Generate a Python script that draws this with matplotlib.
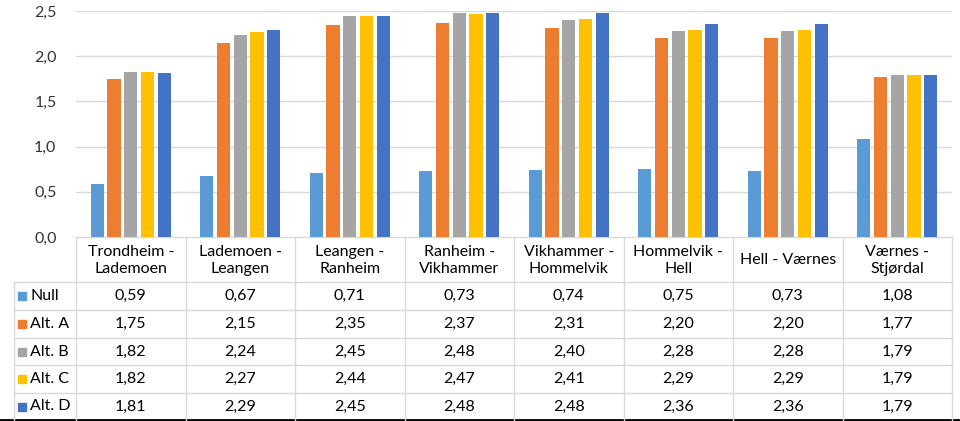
import numpy as np
import matplotlib.pyplot as plt
from matplotlib.ticker import FuncFormatter

# segments along the line, Null + four alternatives
categories = ['Trondheim -\nLademoen', 'Lademoen -\nLeangen', 'Leangen -\nRanheim',
              'Ranheim -\nVikhammer', 'Vikhammer -\nHommelvik', 'Hommelvik -\nHell',
              'Hell - Værnes', 'Værnes -\nStjørdal']
series_names = ['Null', 'Alt. A', 'Alt. B', 'Alt. C', 'Alt. D']
null_vals = [0.59, 0.67, 0.71, 0.73, 0.74, 0.75, 0.73, 1.08]
alt_a = [1.75, 2.15, 2.35, 2.37, 2.31, 2.20, 2.20, 1.77]
alt_b = [1.82, 2.24, 2.45, 2.48, 2.40, 2.28, 2.28, 1.79]
alt_c = [1.82, 2.27, 2.44, 2.47, 2.41, 2.29, 2.29, 1.79]
alt_d = [1.81, 2.29, 2.45, 2.48, 2.48, 2.36, 2.36, 1.79]
colors = ['#5B9BD5', '#ED7D31', '#A5A5A5', '#FFC000', '#4472C4']

plt.rcParams['font.family'] = ['Lato', 'DejaVu Sans']
GRID = '#D9D9D9'
TXT = '#000000'
FS = 11.5

W, H = 960, 421
x0, x1 = 76, 952          # plot / table columns
y_top, y_axis = 11, 237   # 2,5 and 0,0 in pixels
row_y = [237, 282, 310, 338, 365, 393, 420]
leg_x = 14


def comma(v, decimals):
    return f'{v:.{decimals}f}'.replace('.', ',')


def main():
    data = [null_vals, alt_a, alt_b, alt_c, alt_d]
    n = len(categories)
    fig = plt.figure(figsize=(W / 100, H / 100), dpi=100)

    ax = fig.add_axes([x0 / W, (H - y_axis) / H, (x1 - x0) / W, (y_axis - y_top) / H])
    x = np.arange(n)
    step, bw = 0.153, 0.122
    for i, (vals, c) in enumerate(zip(data, colors)):
        ax.bar(x + (i - 2) * step, vals, bw, color=c, zorder=3)
    ax.set_xlim(-0.5, n - 0.5)
    ax.set_ylim(0, 2.5)
    ax.set_yticks(np.arange(0, 2.51, 0.5))
    ax.yaxis.set_major_formatter(FuncFormatter(lambda v, p: comma(v, 1)))
    ax.set_xticks([])
    ax.tick_params(axis='y', length=0, labelsize=FS, pad=14, colors='#333333')
    ax.grid(axis='y', color=GRID, linewidth=1, zorder=0)
    for s in ax.spines.values():
        s.set_visible(False)

    # data table drawn in pixel coordinates
    tb = fig.add_axes([0, 0, 1, 1], zorder=-1)
    tb.set_xlim(0, W)
    tb.set_ylim(H, 0)
    tb.axis('off')
    colw = (x1 - x0) / n
    lw = 1
    tb.plot([x0, x1], [row_y[0], row_y[0]], color=GRID, lw=lw)
    for y in row_y[1:-1]:
        tb.plot([leg_x, x1], [y, y], color=GRID, lw=lw)
    tb.plot([0, W], [row_y[-1], row_y[-1]], color='black', lw=2)
    for k in range(n + 1):
        xx = x0 + k * colw
        tb.plot([xx, xx], [row_y[0], row_y[-1]], color=GRID, lw=lw)
    tb.plot([leg_x, leg_x], [row_y[1], row_y[-1]], color=GRID, lw=lw)

    for k, cat in enumerate(categories):
        cx = x0 + (k + 0.5) * colw
        tb.text(cx, (row_y[0] + row_y[1]) / 2 + 1, cat, ha='center', va='center',
                fontsize=FS, color=TXT, linespacing=1.2)
    for r, (name, vals, c) in enumerate(zip(series_names, data, colors)):
        cy = (row_y[r + 1] + row_y[r + 2]) / 2
        tb.add_patch(plt.Rectangle((18, cy - 4), 8, 8, color=c))
        tb.text(30, cy, name, ha='left', va='center', fontsize=FS, color=TXT)
        for k, v in enumerate(vals):
            tb.text(x0 + (k + 0.5) * colw, cy, comma(v, 2), ha='center', va='center',
                    fontsize=FS, color=TXT)

    fig.savefig('out.png', dpi=100, facecolor='white')


if __name__ == '__main__':
    main()
